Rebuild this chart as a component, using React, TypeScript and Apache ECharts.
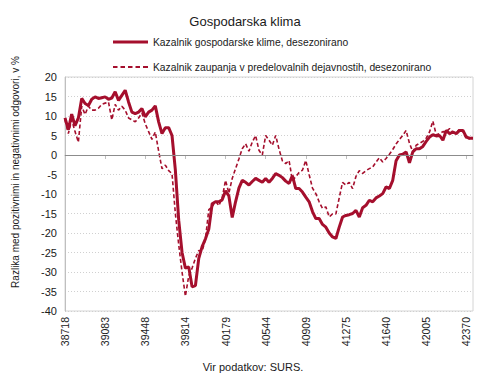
import React, { useEffect, useRef } from "react";
import * as echarts from "echarts";

// Monthly data, January 2006 – March 2016
const START_YEAR = 2006;
const N_MONTHS = 123;
// Excel serial date for the first day of each month (category labels)
const categories: string[] = Array.from({ length: N_MONTHS }, (_, i) =>
  String(Date.UTC(START_YEAR, i, 1) / 86400000 + 25569)
);

const seriesNames = [
  "Kazalnik gospodarske klime, desezonirano",
  "Kazalnik zaupanja v predelovalnih dejavnostih, desezonirano",
];

const klima: number[] = [
  9.5, 6.5, 10.5, 7.5, 9.5, 14.5, 13.2, 12.7, 14.3, 14.9, 14.5, 14.7,
  14.9, 14.3, 14.6, 16.2, 14.0, 15.3, 16.6, 13.6, 11.0, 10.6, 11.0, 11.9,
  9.8, 11.0, 11.5, 12.6, 8.5, 5.5, 7.0, 7.0, 5.0, -3.9, -16.7, -25.0,
  -29.0, -28.7, -33.8, -33.5, -26.5, -23.5, -21.5, -19.0, -12.5, -12.0, -12.0, -11.5,
  -9.2, -10.5, -16.0, -12.0, -8.5, -6.5, -7.0, -7.7, -6.8, -6.0, -6.5, -7.0,
  -6.0, -7.0, -6.0, -4.8, -5.2, -5.8, -6.7, -7.3, -5.3, -8.6, -8.6, -9.5,
  -10.8, -12.0, -14.5, -16.3, -16.3, -17.8, -18.5, -20.0, -21.0, -21.4, -18.5, -15.9,
  -15.5, -15.3, -15.0, -14.2, -15.9, -13.5, -12.9, -11.6, -12.0, -11.0, -10.5, -9.9,
  -8.2, -8.6, -6.5, -1.5, 0.0, 0.2, 0.8, -2.0, 0.8, 1.6, 1.6, 2.2,
  3.5, 4.6, 5.2, 4.9, 5.0, 3.8, 6.3, 5.5, 5.9, 5.5, 6.3, 6.3,
  4.6, 4.3, 4.3,
];

const zaupanje: number[] = [
  9.0, 5.5, 9.0, 6.0, 3.3, 12.5, 10.4, 12.5, 11.5, 11.5, 12.0, 13.0,
  13.3, 13.6, 9.0, 13.0, 11.5, 12.5, 11.5, 9.5, 9.0, 8.5, 9.5, 10.8,
  8.0, 6.0, 4.0, 5.9, 1.0, -3.5, -2.6, -4.0, -4.8, -15.0, -23.0, -30.0,
  -36.2, -31.0, -29.0, -26.5, -24.5, -24.7, -21.5, -14.0, -13.3, -11.8, -13.0, -11.0,
  -6.5, -9.8, -6.0, -3.5, -1.0, 1.6, 2.9, 1.0, 3.3, 5.0, 1.2, 0.0,
  5.0, 3.8, 2.5, 5.0, 1.5, -1.5, -2.2, -1.4, -6.5, -5.6, -4.5, -3.9,
  -1.4, -5.0, -8.5, -9.9, -12.0, -13.7, -13.3, -15.9, -15.1, -15.1, -11.0, -7.0,
  -7.7, -7.0, -8.6, -5.5, -4.0, -4.7, -4.0, -3.5, -3.1, -1.8, -0.7, -1.8,
  -0.9, 0.2, 1.4, 2.8, 4.0, 5.0, 6.3, 3.0, 0.8, 2.5, 3.0, 3.5,
  4.3, 5.9, 8.7, 5.2, 5.5, 6.0, 5.9, 6.8, 5.8, 5.5, 6.8, 5.9,
  4.2, 4.2, 4.6,
];

const Y_MIN = -40;
const Y_MAX = 20;
const Y_STEP = 5;

const TITLE = "Gospodarska klima";
const Y_NAME = "Razlika med pozitivnimi in negativnimi odgovori, v %";
const SOURCE = "Vir podatkov: SURS.";

const FONT = "'Liberation Sans', Arial, sans-serif";
const RED = "#A50F2D";
const TXT = "#1a1a1a";

const DASH_ICON =
  "path://M0,0h4.5v2h-4.5z M7.5,0h4.5v2h-4.5z M15,0h4.5v2h-4.5z M22.5,0h4.5v2h-4.5z M30,0h5v2h-5z";

export default function App() {
  const ref = useRef<HTMLDivElement>(null);

  useEffect(() => {
    if (!ref.current) return;
    const chart = echarts.init(ref.current, undefined, { renderer: "svg" });
    chart.setOption({
      animation: false,
      backgroundColor: "#ffffff",
      textStyle: { fontFamily: FONT },
      title: {
        text: TITLE,
        left: "center",
        top: 10,
        textStyle: { fontSize: 13, fontWeight: "normal", color: TXT, fontFamily: FONT },
      },
      legend: [
        {
          data: [seriesNames[0]],
          left: 108,
          top: 32,
          icon: "rect",
          itemWidth: 35,
          itemHeight: 3,
          itemGap: 5,
          textStyle: { fontSize: 10.3, color: TXT, fontFamily: FONT },
        },
        {
          data: [seriesNames[1]],
          left: 108,
          top: 57,
          icon: DASH_ICON,
          itemWidth: 35,
          itemHeight: 2,
          itemGap: 5,
          textStyle: { fontSize: 10.3, color: TXT, fontFamily: FONT },
        },
      ],
      grid: {
        left: 65,
        right: 17,
        top: 77,
        bottom: 69,
        show: true,
        borderColor: "#d4d4d4",
        borderWidth: 1,
      },
      xAxis: {
        type: "category",
        data: categories,
        boundaryGap: false,
        axisLine: { lineStyle: { color: "#bfbfbf" } },
        axisTick: { show: true, interval: 11, length: 4, lineStyle: { color: "#bfbfbf" } },
        axisLabel: {
          interval: 11,
          rotate: 90,
          fontSize: 10.5,
          color: TXT,
          fontFamily: FONT,
          margin: 6,
        },
        splitLine: { show: false },
      },
      yAxis: {
        type: "value",
        min: Y_MIN,
        max: Y_MAX,
        interval: Y_STEP,
        axisLine: { show: true, lineStyle: { color: "#bfbfbf" } },
        axisTick: { show: false },
        axisLabel: { fontSize: 11, color: TXT, fontFamily: FONT, margin: 8 },
        splitLine: { show: true, lineStyle: { color: "#d0d0d0", type: [1, 2] } },
      },
      graphic: [
        {
          type: "text",
          x: 15,
          y: 172,
          rotation: Math.PI / 2,
          style: {
            text: Y_NAME,
            fontSize: 10,
            fill: TXT,
            fontFamily: FONT,
            textAlign: "center",
            textVerticalAlign: "middle",
          },
        },
        {
          type: "text",
          x: 253,
          y: 367,
          style: {
            text: SOURCE,
            fontSize: 11,
            fill: TXT,
            fontFamily: FONT,
            textAlign: "center",
            textVerticalAlign: "middle",
          },
        },
      ],
      series: [
        {
          name: seriesNames[0],
          type: "line",
          data: klima,
          symbol: "none",
          smooth: false,
          lineStyle: { color: RED, width: 3 },
          itemStyle: { color: RED },
          z: 3,
          markLine: {
            silent: true,
            symbol: "none",
            label: { show: false },
            lineStyle: { color: "#8c8c8c", width: 1, type: "solid" },
            data: [{ yAxis: 0 }],
          },
        },
        {
          name: seriesNames[1],
          type: "line",
          data: zaupanje,
          symbol: "none",
          smooth: false,
          lineStyle: { color: RED, width: 1.6, type: [4, 2.5] },
          itemStyle: { color: RED },
          z: 2,
        },
      ],
    });
    return () => chart.dispose();
  }, []);

  return (
    <div
      ref={ref}
      style={{ position: "fixed", left: 0, top: 0, width: 490, height: 380 }}
    />
  );
}
